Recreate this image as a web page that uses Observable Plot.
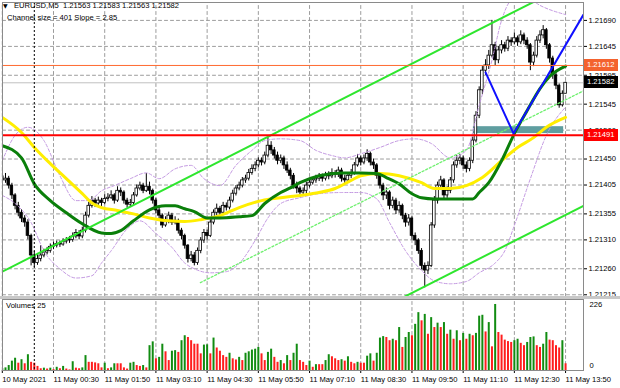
<!DOCTYPE html>
<html><head><meta charset="utf-8">
<script src="https://cdn.jsdelivr.net/npm/d3@7"></script>
<script src="https://cdn.jsdelivr.net/npm/@observablehq/plot@0.6"></script>
<style>
body{margin:0;background:#fff;}
#wrap{position:relative;width:620px;height:388px;overflow:hidden;background:#fff;font-family:"Liberation Sans",Arial,sans-serif;font-size:7.6px;color:#000;}
#wrap svg{position:absolute;left:0;}
.abs{position:absolute;white-space:pre;line-height:1;}
.tag{position:absolute;left:584px;width:34px;height:12px;line-height:12px;color:#fff;padding-left:3px;box-sizing:border-box;font-size:7.6px;}
</style></head><body><div id="wrap"></div><script>
// ---- data ----
const symbol = "EURUSD,M5";
const ohlcLast = ["1.21563","1.21583","1.21563","1.21582"];
const channelText = "Channel size = 401 Slope = 2.85";
const firstOpen = 1.21420;
const close = [
1.21413,1.21416,1.21404,1.21387,1.21369,1.21357,1.21347,1.21340,1.21317,1.21283,
1.21270,1.21277,1.21283,1.21288,1.21291,1.21298,1.21300,1.21303,1.21302,1.21307,
1.21309,1.21310,1.21316,1.21322,1.21316,1.21326,1.21352,1.21369,1.21378,1.21373,
1.21378,1.21374,1.21381,1.21383,1.21387,1.21378,1.21395,1.21392,1.21378,1.21371,
1.21374,1.21387,1.21399,1.21404,1.21395,1.21402,1.21395,1.21378,1.21361,1.21352,
1.21335,1.21343,1.21352,1.21340,1.21343,1.21326,1.21317,1.21300,1.21277,1.21283,
1.21270,1.21291,1.21309,1.21322,1.21317,1.21340,1.21357,1.21364,1.21357,1.21369,
1.21366,1.21378,1.21390,1.21399,1.21404,1.21413,1.21416,1.21426,1.21433,1.21439,
1.21447,1.21444,1.21456,1.21473,1.21465,1.21456,1.21447,1.21451,1.21439,1.21430,
1.21421,1.21404,1.21399,1.21392,1.21395,1.21404,1.21409,1.21413,1.21416,1.21420,
1.21416,1.21421,1.21420,1.21426,1.21423,1.21430,1.21416,1.21413,1.21421,1.21426,
1.21439,1.21451,1.21444,1.21451,1.21459,1.21444,1.21439,1.21421,1.21404,1.21387,
1.21392,1.21369,1.21378,1.21361,1.21369,1.21352,1.21340,1.21347,1.21317,1.21309,
1.21291,1.21265,1.21257,1.21265,1.21335,1.21378,1.21404,1.21413,1.21387,1.21395,
1.21413,1.21439,1.21447,1.21451,1.21439,1.21433,1.21447,1.21482,1.21525,1.21569,
1.21603,1.21612,1.21629,1.21647,1.21621,1.21638,1.21647,1.21641,1.21655,1.21652,
1.21659,1.21652,1.21664,1.21655,1.21647,1.21617,1.21629,1.21655,1.21664,1.21673,
1.21647,1.21624,1.21595,1.21577,1.21543,1.21563,1.21582];
const high = [
1.21428,1.21425,1.21420,1.21408,1.21390,1.21375,1.21362,1.21352,1.21345,1.21320,
1.21290,1.21285,1.21300,1.21294,1.21297,1.21303,1.21306,1.21308,1.21308,1.21312,
1.21314,1.21316,1.21322,1.21328,1.21326,1.21332,1.21358,1.21375,1.21385,1.21382,
1.21384,1.21382,1.21388,1.21390,1.21395,1.21390,1.21402,1.21400,1.21395,1.21382,
1.21380,1.21392,1.21405,1.21410,1.21408,1.21425,1.21410,1.21398,1.21382,1.21365,
1.21355,1.21350,1.21358,1.21356,1.21350,1.21346,1.21330,1.21320,1.21302,1.21290,
1.21288,1.21296,1.21314,1.21328,1.21327,1.21346,1.21362,1.21372,1.21368,1.21375,
1.21374,1.21384,1.21396,1.21404,1.21410,1.21418,1.21422,1.21432,1.21440,1.21445,
1.21452,1.21452,1.21462,1.21487,1.21480,1.21470,1.21462,1.21457,1.21455,1.21445,
1.21434,1.21425,1.21410,1.21402,1.21400,1.21410,1.21414,1.21418,1.21422,1.21425,
1.21424,1.21427,1.21428,1.21433,1.21430,1.21436,1.21434,1.21422,1.21426,1.21432,
1.21444,1.21458,1.21455,1.21457,1.21466,1.21462,1.21450,1.21442,1.21425,1.21408,
1.21400,1.21395,1.21384,1.21382,1.21376,1.21372,1.21356,1.21354,1.21350,1.21322,
1.21312,1.21295,1.21270,1.21272,1.21340,1.21385,1.21410,1.21420,1.21416,1.21402,
1.21418,1.21445,1.21456,1.21458,1.21455,1.21445,1.21452,1.21488,1.21532,1.21575,
1.21610,1.21622,1.21638,1.21690,1.21652,1.21645,1.21655,1.21652,1.21662,1.21660,
1.21668,1.21663,1.21672,1.21668,1.21660,1.21650,1.21635,1.21662,1.21672,1.21681,
1.21676,1.21650,1.21628,1.21600,1.21580,1.21568,1.21583];
const low = [
1.21405,1.21408,1.21398,1.21380,1.21362,1.21350,1.21340,1.21332,1.21310,1.21265,
1.21262,1.21266,1.21272,1.21279,1.21284,1.21287,1.21293,1.21296,1.21297,1.21299,
1.21303,1.21304,1.21306,1.21312,1.21310,1.21312,1.21322,1.21348,1.21365,1.21366,
1.21370,1.21368,1.21371,1.21376,1.21380,1.21372,1.21375,1.21385,1.21372,1.21365,
1.21366,1.21370,1.21384,1.21395,1.21390,1.21392,1.21388,1.21372,1.21355,1.21345,
1.21330,1.21332,1.21338,1.21335,1.21336,1.21320,1.21310,1.21294,1.21270,1.21272,
1.21265,1.21266,1.21286,1.21304,1.21310,1.21314,1.21336,1.21352,1.21350,1.21354,
1.21360,1.21362,1.21374,1.21386,1.21395,1.21400,1.21408,1.21412,1.21422,1.21428,
1.21435,1.21438,1.21440,1.21452,1.21458,1.21450,1.21440,1.21442,1.21432,1.21425,
1.21414,1.21398,1.21390,1.21383,1.21386,1.21390,1.21400,1.21405,1.21408,1.21411,
1.21410,1.21412,1.21414,1.21416,1.21417,1.21418,1.21410,1.21406,1.21409,1.21416,
1.21422,1.21436,1.21438,1.21440,1.21446,1.21438,1.21432,1.21415,1.21398,1.21378,
1.21380,1.21362,1.21364,1.21354,1.21356,1.21345,1.21332,1.21334,1.21310,1.21300,
1.21285,1.21258,1.21227,1.21250,1.21262,1.21330,1.21372,1.21398,1.21380,1.21382,
1.21390,1.21408,1.21434,1.21440,1.21432,1.21426,1.21428,1.21442,1.21478,1.21520,
1.21562,1.21595,1.21605,1.21625,1.21612,1.21615,1.21632,1.21635,1.21636,1.21645,
1.21648,1.21645,1.21648,1.21648,1.21640,1.21603,1.21610,1.21625,1.21650,1.21658,
1.21640,1.21616,1.21588,1.21570,1.21538,1.21540,1.21563];
const volume = [
6,9,17,32,42,25,37,23,54,28,
25,14,6,8,5,8,3,11,6,14,
5,2,30,8,6,9,51,28,28,26,
23,9,25,6,9,23,23,23,9,5,
25,28,17,14,17,9,85,98,40,45,
90,64,34,66,68,62,102,119,113,102,
90,90,57,87,88,57,111,77,66,51,
45,59,40,36,45,34,59,64,70,73,
79,57,34,62,73,45,28,34,23,51,
34,59,90,34,28,17,32,11,20,20,
20,34,54,47,40,34,37,32,47,28,
23,28,25,25,49,57,32,59,111,116,
113,102,107,102,147,79,113,130,119,158,
198,170,192,124,181,147,162,147,164,124,
138,107,136,102,127,107,124,119,127,186,
189,132,164,81,226,130,121,104,99,96,
102,107,93,85,96,113,115,85,79,90,
130,104,102,85,77,102,23];
// moving averages [bar, price]
const maGreen = [[0,1.21473],[6,1.21452],[10,1.21407],[15,1.21378],[20,1.21357],[25,1.21338],[31,1.21322],[34,1.21321],[37,1.21326],[41,1.21343],[46,1.21362],[51,1.21369],[54,1.21369],[57,1.21364],[60,1.21359],[64,1.21348],[68,1.21348],[74,1.21350],[78,1.21352],[82,1.21373],[87,1.21392],[90,1.21400],[93,1.21409],[99,1.21421],[106,1.21426],[112,1.21426],[117,1.21425],[120,1.21418],[124,1.21407],[128,1.21390],[131,1.21383],[135,1.21381],[140,1.21381],[147,1.21381],[149,1.21392],[152,1.21409],[156,1.21447],[160,1.21494],[164,1.21534],[168,1.21572],[171,1.21593],[176,1.21611]];
const maYellow = [[0,1.21522],[6,1.21496],[10,1.21470],[15,1.21442],[20,1.21416],[25,1.21390],[28,1.21374],[31,1.21366],[36,1.21361],[41,1.21355],[46,1.21348],[52,1.21343],[57,1.21342],[62,1.21345],[68,1.21352],[74,1.21366],[81,1.21378],[87,1.21383],[93,1.21387],[99,1.21392],[104,1.21399],[109,1.21413],[112,1.21421],[118,1.21425],[124,1.21421],[131,1.21409],[135,1.21399],[140,1.21399],[145,1.21404],[150,1.21418],[156,1.21447],[161,1.21470],[166,1.21487],[170,1.21505],[176,1.21522]];
const bbUpper = [[0,1.21447],[4,1.21491],[8,1.21505],[13,1.21482],[18,1.21421],[23,1.21378],[27,1.21378],[31,1.21395],[35,1.21404],[40,1.21416],[45,1.21426],[49,1.21416],[54,1.21433],[59,1.21439],[63,1.21416],[68,1.21404],[73,1.21439],[78,1.21465],[82,1.21482],[87,1.21485],[93,1.21482],[98,1.21465],[103,1.21456],[107,1.21452],[112,1.21459],[118,1.21470],[124,1.21482],[129,1.21485],[134,1.21477],[140,1.21452],[145,1.21465],[149,1.21543],[153,1.21621],[156,1.21690],[159,1.21725],[163,1.21733],[168,1.21716],[176,1.21700]];
const bbLower = [[0,1.21387],[4,1.21373],[9,1.21340],[13,1.21291],[18,1.21260],[23,1.21244],[28,1.21248],[31,1.21270],[34,1.21291],[39,1.21329],[43,1.21343],[48,1.21321],[53,1.21297],[57,1.21270],[60,1.21260],[65,1.21253],[70,1.21255],[74,1.21269],[79,1.21309],[83,1.21348],[87,1.21373],[93,1.21383],[99,1.21390],[106,1.21392],[112,1.21392],[117,1.21381],[121,1.21340],[126,1.21291],[131,1.21257],[135,1.21239],[140,1.21234],[145,1.21238],[149,1.21253],[154,1.21270],[157,1.21291],[160,1.21335],[165,1.21416],[170,1.21491],[176,1.21540]];
// drawn objects [bar, price]
const channelUpper = [[0,1.21255],[176,1.21750]];
const channelMid = [[61.9,1.21236],[181.6,1.21568]];
const channelLower = [[124.4,1.21208],[181.6,1.21369]];
const blueLine = [[151.0,1.21600],[159.75,1.21494],[181.6,1.21700]];
const zone = {x1:147.2, x2:175.4, y1:1.21494, y2:1.21506};
const redLevel = 1.21491, orangeLevel = 1.21612, bidLevel = 1.21582;
const crossBar = 10, crossVolume = 25;
const priceTicks = [1.21690,1.21645,1.21595,1.21545,1.21500,1.21450,1.21405,1.21355,1.21310,1.21260,1.21215];
const timeTickIdx = [0,16,32,48,64,80,96,112,128,144,160,176];
const timeLabels = ["10 May 2021","11 May 00:30","11 May 01:50","11 May 03:10","11 May 04:30","11 May 05:50","11 May 07:10","11 May 08:30","11 May 09:50","11 May 11:10","11 May 12:30","11 May 13:50"];
const volMax = 226;

// ---- build ----
const bars = close.map((c,i)=>({i, o: i===0 ? firstOpen : close[i-1], h: high[i], l: low[i], c}));
const vols = volume.map((v,i)=>({i, v, up: i===0 || v > volume[i-1]}));
const pts = a => a.map(([i,v])=>({i,v}));
const font = '"Liberation Sans", Arial, sans-serif';
const xDomain = [0.0625, 181.6];
const yDomain = [1.21212, 1.21721];
const vDomain = [0, 243];
// grid segments built from the tick arrays and the scale domains
const gridHSeg = priceTicks.flatMap(v => [{k:v, x:xDomain[0], y:v}, {k:v, x:xDomain[1], y:v}]);
const gridVSeg = timeTickIdx.flatMap(i => [{k:i, x:i, y:yDomain[0]}, {k:i, x:i, y:yDomain[1]}]);
const gridVSegVol = timeTickIdx.flatMap(i => [{k:i, x:i, y:vDomain[0]}, {k:i, x:i, y:vDomain[1]}]);
const gridOpts = {x:"x", y:"y", z:"k", stroke:"#9c9c9c", strokeWidth:1, strokeDasharray:"3,3"};
const frameOpts = {stroke:"#8a8a8a"};

const price = Plot.plot({
  width:620, height:297, marginLeft:2, marginRight:37, marginTop:2, marginBottom:1,
  style:{fontFamily:font, fontSize:"7.6px", background:"#fff", color:"#000", overflow:"visible"},
  x:{domain:xDomain, axis:null},
  y:{domain:yDomain, axis:null},
  marks:[
    Plot.line(gridHSeg, gridOpts),
    Plot.line(gridVSeg, gridOpts),
    Plot.rect([zone], {x1:"x1", x2:"x2", y1:"y1", y2:"y2", fill:"#5f9ea0", clip:true}),
    Plot.ruleY([bidLevel], {stroke:"#c0c0c0"}),
    Plot.ruleX(bars, {x:"i", y1:"l", y2:"h", stroke:"#000", strokeWidth:1, clip:true}),
    Plot.rect(bars, {x1:d=>d.i-0.4, x2:d=>d.i+0.4, y1:"o", y2:"c", fill:d=>d.c>=d.o?"#fff":"#000", stroke:"#000", strokeWidth:0.8, clip:true}),
    Plot.line(pts(bbUpper), {x:"i", y:"v", stroke:"#c49ae2", strokeWidth:1, strokeDasharray:"3,2", curve:"monotone-x", clip:true}),
    Plot.line(pts(bbLower), {x:"i", y:"v", stroke:"#c49ae2", strokeWidth:1, strokeDasharray:"3,2", curve:"monotone-x", clip:true}),
    Plot.line(pts(maYellow), {x:"i", y:"v", stroke:"#ffee00", strokeWidth:3, curve:"monotone-x", clip:true}),
    Plot.line(pts(maGreen), {x:"i", y:"v", stroke:"#0a7f0a", strokeWidth:3, curve:"monotone-x", clip:true}),
    Plot.line(pts(channelUpper), {x:"i", y:"v", stroke:"#2ee62e", strokeWidth:2, clip:true}),
    Plot.line(pts(channelMid), {x:"i", y:"v", stroke:"#6ef06e", strokeWidth:1.3, strokeDasharray:"2,2", clip:true}),
    Plot.line(pts(channelLower), {x:"i", y:"v", stroke:"#2ee62e", strokeWidth:2, clip:true}),
    Plot.line(pts(blueLine), {x:"i", y:"v", stroke:"#1010ff", strokeWidth:2, clip:true}),
    Plot.ruleY([orangeLevel], {stroke:"#ff6a30", strokeWidth:1}),
    Plot.ruleY([redLevel], {stroke:"#ff0000", strokeWidth:2}),
    Plot.ruleX([crossBar], {stroke:"#000", strokeDasharray:"2,2"}),
    Plot.axisY(priceTicks, {anchor:"right", tickSize:3, tickPadding:2, tickFormat:d=>d.toFixed(5), fontSize:7.6}),
    Plot.frame(frameOpts)
  ]
});

const vol = Plot.plot({
  width:620, height:91, marginLeft:2, marginRight:37, marginTop:2, marginBottom:18,
  style:{fontFamily:font, fontSize:"7.6px", background:"transparent", color:"#000", overflow:"visible"},
  x:{domain:xDomain, axis:null},
  y:{domain:vDomain, axis:null},
  marks:[
    Plot.line(gridVSegVol, gridOpts),
    Plot.ruleX(vols, {x:"i", y1:0, y2:"v", stroke:d=>d.up?"#118c11":"#ff1e1e", strokeWidth:2, clip:true}),
    Plot.ruleX([crossBar], {stroke:"#000", strokeDasharray:"2,2"}),
    Plot.axisX(timeTickIdx, {anchor:"bottom", tickSize:3, tickPadding:3, textAnchor:"start", tickFormat:d=>timeLabels[timeTickIdx.indexOf(d)], fontSize:7.6}),
    Plot.axisY([volMax], {anchor:"right", tickSize:0, tickPadding:6, fontSize:7.6}),
    Plot.axisY([0], {anchor:"right", tickSize:0, tickPadding:6, dy:-5, fontSize:7.6}),
    Plot.frame(frameOpts)
  ]
});

const wrap = document.getElementById("wrap");
price.style.top = "0px";
vol.style.top = "297px";
wrap.appendChild(price);
const sep = document.createElement("div");
sep.style.cssText = "position:absolute;left:0;top:296px;width:620px;height:3px;background:#c8c8c8;";
wrap.appendChild(sep);
wrap.appendChild(vol);

function addText(txt, left, top, extra){ const d=document.createElement("div"); d.className="abs"; d.textContent=txt; d.style.left=left+"px"; d.style.top=top+"px"; if(extra) d.style.cssText += extra; wrap.appendChild(d); return d; }
addText("\u25BC", 3, 3, "font-family:'DejaVu Sans';font-size:6px;");
addText(symbol + "  " + ohlcLast.join(" "), 14, 2);
addText(channelText, 7, 14);
addText("Volumes " + crossVolume, 6, 302);

const ys = price.scale("y");
function tag(v, bg){ const d=document.createElement("div"); d.className="tag"; d.textContent=v.toFixed(5); d.style.background=bg; d.style.top=(ys.apply(v)-6)+"px"; wrap.appendChild(d); }
tag(orangeLevel, "#f4622e");
tag(bidLevel, "#000");
tag(redLevel, "#f00");
</script></body></html>
